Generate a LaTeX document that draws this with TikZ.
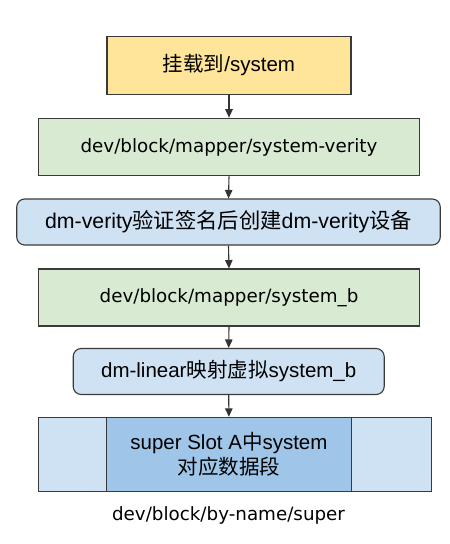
\documentclass[tikz,border=0pt]{standalone}
\usepackage{fontspec}
\setmainfont{Liberation Sans}
\newfontfamily\dv{DejaVu Sans}
\newfontfamily\cjk{Noto Sans CJK SC}
\usetikzlibrary{arrows.meta}
\definecolor{cyel}{HTML}{FFE599}
\definecolor{cgrn}{HTML}{D9EAD3}
\definecolor{cblu}{HTML}{CFE2F3}
\definecolor{cblud}{HTML}{9FC5E8}
\definecolor{cbrd}{HTML}{3A3A3A}
\definecolor{carr}{HTML}{333333}
\begin{document}
\begin{tikzpicture}[x=1pt,y=-1pt,
  base/.style={draw=cbrd, line width=1.1pt, inner sep=0pt, align=center},
  sq/.style={base, rectangle},
  rnd/.style={base, rectangle, rounded corners=8pt},
  arialtxt/.style={font=\fontsize{20.5}{25}\selectfont},
  dvtxt/.style={font=\dv\fontsize{18.3}{22}\selectfont},
  conn/.style={draw=carr, line width=1.1pt, -{Triangle[width=7.5pt,length=8.5pt]}}
]
\useasboundingbox (0,0) rectangle (450,544);
\node[sq, fill=cyel, minimum width=244pt, minimum height=57.5pt, arialtxt] (n1) at (229,65.5) {{\cjk 挂载到}/system};
\node[sq, fill=cgrn, minimum width=381pt, minimum height=57.5pt, dvtxt] (n2) at (229,147) {dev/block/mapper/system-verity};
\node[rnd, fill=cblu, minimum width=423.5pt, minimum height=46pt, font=\fontsize{21.3}{25}\selectfont] (n3) at (228.5,222) {dm-verity{\cjk 验证签名后创建}dm-verity{\cjk 设备}};
\node[sq, fill=cgrn, minimum width=381pt, minimum height=57pt, dvtxt] (n4) at (229,297.5) {dev/block/mapper/system\_b};
\node[rnd, fill=cblu, minimum width=311pt, minimum height=46pt, arialtxt] (n5) at (228.7,371.5) {dm-linear{\cjk 映射虚拟}system\_b};
\node[sq, fill=cblu, minimum width=393pt, minimum height=73.7pt] (n6) at (234.7,454.2) {};
\node[sq, fill=cblud, minimum width=244.3pt, minimum height=73.7pt, arialtxt] (n7) at (228.9,454.2) {super Slot A{\cjk 中}system\\{\cjk 对应数据段}};
\node[dvtxt] (lbl) at (228.5,515) {dev/block/by-name/super};
\draw[conn] (n1.south) -- (n2.north);
\draw[conn] (n2.south) -- (n3.north);
\draw[conn] (n3.south) -- (n4.north);
\draw[conn] (n4.south) -- (n5.north);
\draw[conn] (n5.south) -- (n7.north);
\end{tikzpicture}
\end{document}
